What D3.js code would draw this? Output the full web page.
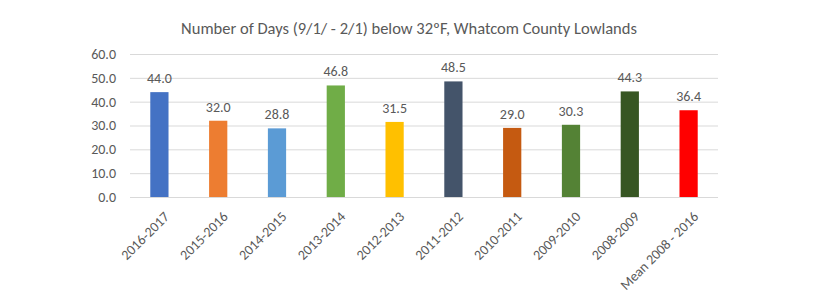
<!DOCTYPE html>
<html>
<head>
<meta charset="utf-8">
<script src="https://cdn.jsdelivr.net/npm/d3@7"></script>
<style>
body { margin: 0; background: #fff; }
text { font-family: Calibri, Carlito, Lato, "Open Sans", sans-serif; fill: #595959; }
</style>
</head>
<body>
<script>
const seasons = ["2016-2017", "2015-2016", "2014-2015", "2013-2014", "2012-2013",
  "2011-2012", "2010-2011", "2009-2010", "2008-2009", "Mean 2008 - 2016"];
const days = [44.0, 32.0, 28.8, 46.8, 31.5, 48.5, 29.0, 30.3, 44.3, 36.4];
const barColors = ["#4472C4", "#ED7D31", "#5B9BD5", "#70AD47", "#FFC000",
  "#44546A", "#C55A11", "#548235", "#375623", "#FF0000"];
const yTicks = [0, 10, 20, 30, 40, 50, 60];

const width = 817, height = 308;
const margin = { top: 54, right: 99, bottom: 111, left: 130 };
const font = "Calibri, Carlito, Lato, 'Open Sans', sans-serif";

const svg = d3.select("body").append("svg")
  .attr("width", width)
  .attr("height", height);

const x = d3.scaleBand()
  .domain(seasons)
  .range([margin.left, width - margin.right])
  .paddingInner(0.69)
  .paddingOuter(0.345);

const y = d3.scaleLinear()
  .domain([0, 60])
  .range([height - margin.bottom, margin.top]);

// title
svg.append("text")
  .attr("x", 409)
  .attr("y", 34)
  .attr("text-anchor", "middle")
  .style("font-size", "16.5px")
  .text("Number of Days (9/1/ - 2/1) below 32ºF, Whatcom County Lowlands");

// gridlines
svg.append("g")
  .selectAll("line")
  .data(yTicks)
  .join("line")
  .attr("x1", margin.left)
  .attr("x2", width - margin.right)
  .attr("y1", d => y(d) + 0.5)
  .attr("y2", d => y(d) + 0.5)
  .attr("stroke", "#d9d9d9")
  .attr("stroke-width", 1);

// y axis labels
const yAxis = svg.append("g")
  .attr("transform", "translate(" + (margin.left - 11) + ",0)")
  .call(d3.axisLeft(y).tickValues(yTicks).tickFormat(d3.format(".1f")).tickSize(0));
yAxis.select(".domain").remove();
yAxis.selectAll("text")
  .style("font-size", "14px")
  .style("font-family", font)
  .attr("fill", "#595959");

// bars
svg.append("g")
  .selectAll("rect")
  .data(days)
  .join("rect")
  .attr("x", (d, i) => x(seasons[i]))
  .attr("y", d => y(d))
  .attr("width", x.bandwidth())
  .attr("height", d => y(0) - y(d))
  .attr("fill", (d, i) => barColors[i]);

// value labels
svg.append("g")
  .selectAll("text")
  .data(days)
  .join("text")
  .attr("x", (d, i) => x(seasons[i]) + x.bandwidth() / 2)
  .attr("y", d => y(d) - 9)
  .attr("text-anchor", "middle")
  .style("font-size", "14px")
  .text(d => d.toFixed(1));

// x axis labels
const xAxis = svg.append("g")
  .attr("transform", "translate(0," + y(0) + ")")
  .call(d3.axisBottom(x).tickSize(0));
xAxis.select(".domain").remove();
xAxis.selectAll("text")
  .attr("fill", "#595959")
  .style("font-size", "14px")
  .style("font-family", font)
  .attr("text-anchor", "end")
  .attr("dy", "0.35em")
  .attr("transform", "translate(5,15) rotate(-45)");
</script>
</body>
</html>
